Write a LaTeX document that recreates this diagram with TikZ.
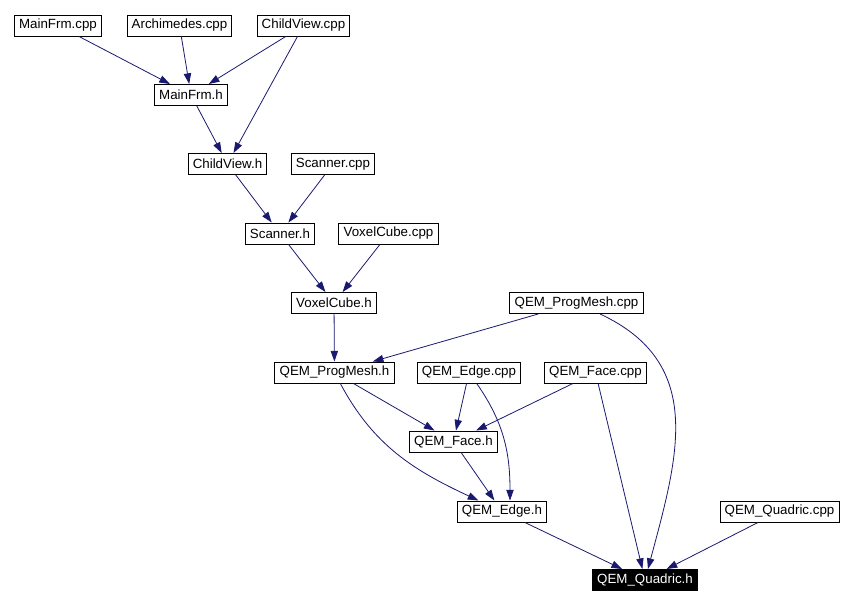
\documentclass[tikz,border=0pt]{standalone}
\usepackage{fontspec}
\setmainfont{Liberation Sans}
\usetikzlibrary{arrows.meta}
\definecolor{edgeblue}{RGB}{25,25,112}

\begin{document}
\begin{tikzpicture}[
    x=0.75pt, y=0.75pt,
    file/.style={rectangle, draw=black, line width=0.75pt, fill=white,
        minimum height=15.75pt, inner xsep=3.5pt, inner ysep=0pt, font=\fontsize{10pt}{12pt}\selectfont},
    current/.style={file, fill=black, text=white},
    dep/.style={draw=edgeblue, line width=0.6pt,
        -{Triangle[length=8pt,width=5.5pt]}, fill=none}
]
    \useasboundingbox (0,0) rectangle (857,-604);
    \node[file] (mfcpp) at (58,-25.5) {MainFrm.cpp};
    \node[file] (archcpp) at (179.5,-25.5) {Archimedes.cpp};
    \node[file] (cvcpp) at (303.5,-25.5) {ChildView.cpp};
    \node[file] (mfh) at (191,-95) {MainFrm.h};
    \node[file] (cvh) at (227.5,-164) {ChildView.h};
    \node[file] (scpp) at (333,-164) {Scanner.cpp};
    \node[file] (sch) at (280,-233.5) {Scanner.h};
    \node[file] (vccpp) at (388.5,-233.5) {VoxelCube.cpp};
    \node[file] (vch) at (334,-303) {VoxelCube.h};
    \node[file] (pmcpp) at (576.5,-303) {QEM\_ProgMesh.cpp};
    \node[file] (pmh) at (334.5,-372.5) {QEM\_ProgMesh.h};
    \node[file] (ecpp) at (469,-372.5) {QEM\_Edge.cpp};
    \node[file] (fcpp) at (595.5,-372.5) {QEM\_Face.cpp};
    \node[file] (fh) at (453.5,-441.5) {QEM\_Face.h};
    \node[file] (eh) at (502,-511.5) {QEM\_Edge.h};
    \node[file] (qcpp) at (779.5,-511.5) {QEM\_Quadric.cpp};
    \node[current] (qh) at (645,-580) {QEM\_Quadric.h};
    \draw[dep] (mfcpp) -- (mfh);
    \draw[dep] (archcpp) -- (mfh);
    \draw[dep] (cvcpp) -- (mfh);
    \draw[dep] (cvcpp) -- (cvh);
    \draw[dep] (mfh) -- (cvh);
    \draw[dep] (cvh) -- (sch);
    \draw[dep] (scpp) -- (sch);
    \draw[dep] (sch) -- (vch);
    \draw[dep] (vccpp) -- (vch);
    \draw[dep] (vch) -- (pmh);
    \draw[dep] (pmcpp) -- (pmh);
    \draw[dep] (pmcpp) to[out=-25, in=75, looseness=1.15] (qh);
    \draw[dep] (pmh) -- (fh);
    \draw[dep] (pmh) to[out=-62, in=155] (eh);
    \draw[dep] (ecpp) -- (fh);
    \draw[dep] (ecpp) to[out=-55, in=90] ([xshift=6]eh.north);
    \draw[dep] (fcpp) -- (fh);
    \draw[dep] (fcpp) -- (qh);
    \draw[dep] (fh) -- (eh);
    \draw[dep] (eh) -- (qh);
    \draw[dep] (qcpp) -- (qh);
\end{tikzpicture}
\end{document}
